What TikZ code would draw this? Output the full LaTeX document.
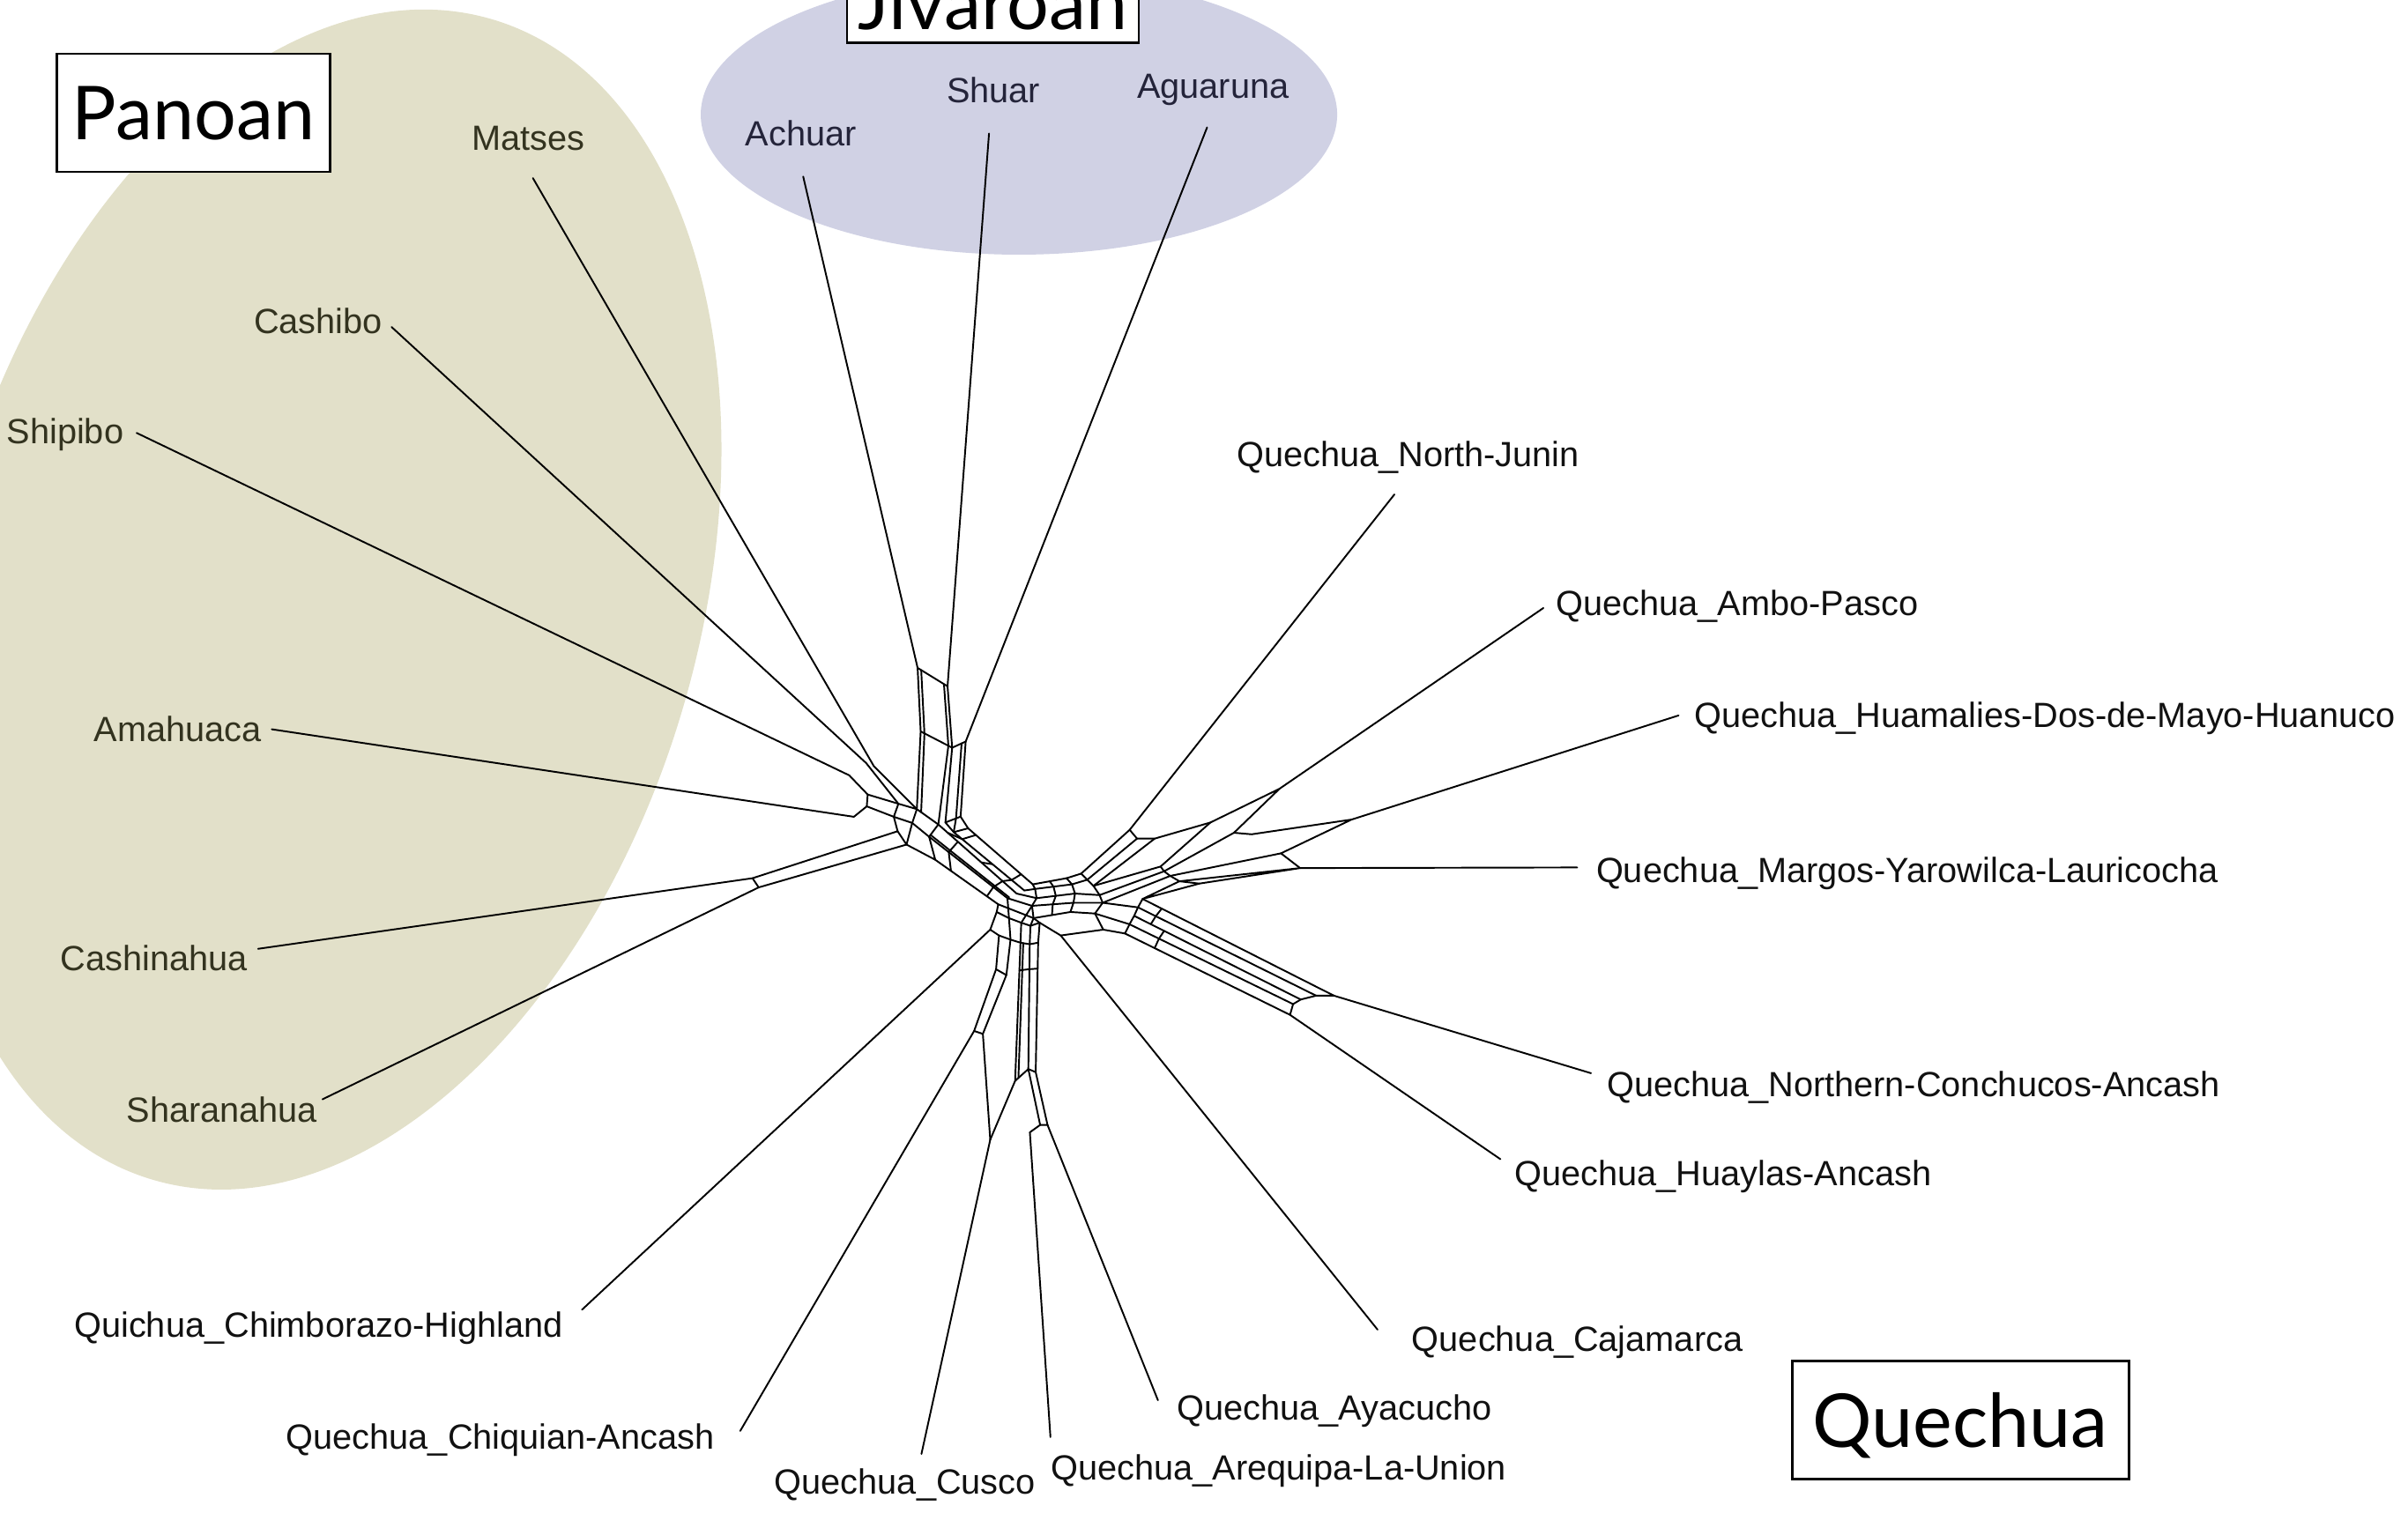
\documentclass[tikz,border=0pt]{standalone}
\usepackage{fontspec}
\setmainfont{Liberation Sans}
\newfontfamily\titlefont{Lato}
\usetikzlibrary{calc}
\definecolor{panfill}{HTML}{E2E0C9}
\definecolor{jivfill}{HTML}{D0D1E4}
\definecolor{pantext}{HTML}{33331F}
\definecolor{jivtext}{HTML}{24243A}
\definecolor{quetext}{HTML}{111111}
\begin{document}
\begin{tikzpicture}[x=0.17423mm,y=-0.17423mm,
  net/.style={line width=0.55pt,line join=round,line cap=round},
  lab/.style={font=\fontsize{11.3}{13}\selectfont,anchor=base west,inner sep=0pt},
  plab/.style={lab,text=pantext},
  jlab/.style={lab,text=jivtext},
  qlab/.style={lab,text=quetext},
  titletext/.style={font=\titlefont\fontsize{24}{28}\selectfont},
  titlebox/.style={draw,line width=0.8pt,fill=white,titletext,minimum height=13.4mm,inner sep=0pt,text depth=0pt}]
\useasboundingbox (0,0) rectangle (1568,985.45);
\clip (0,0) rectangle (1568,985.45);
% group backgrounds
\fill[panfill, rotate around={73.8:(210,390.5)}] (210,390.5) ellipse [x radius=68.6mm, y radius=42.7mm];
\fill[jivfill] (663.5,74.6) ellipse [x radius=36.1mm, y radius=15.9mm];

% ---------- outer leaf ends
\coordinate (mo) at (347,116);
\coordinate (ko) at (255,213);
\coordinate (sio) at (89,282);
\coordinate (amo) at (177,475);
\coordinate (cno) at (168,618);
\coordinate (sho) at (210,716);
\coordinate (acho) at (523,115);
\coordinate (shuo) at (644,87);
\coordinate (aguo) at (786,83);
\coordinate (njo) at (908,322);
\coordinate (apo) at (1005,396);
\coordinate (huo) at (1093,466);
\coordinate (mgo) at (1027,565);
\coordinate (nco) at (1036,699);
\coordinate (hyo) at (977,755);
\coordinate (cjo) at (897,866);
\coordinate (ayo) at (754,912);
\coordinate (aro) at (684,936);
\coordinate (cuo) at (600,947);
\coordinate (cqo) at (482,932);
\coordinate (cho) at (379,853);

% ---------- Panoan part
\coordinate (M1) at (569,499);
\coordinate (K1) at (564,497);
\coordinate (H1) at (553,505);
\coordinate (Am) at (556,532);
\coordinate (C1) at (490,572);
\coordinate (C2) at (494,578);
\coordinate (U0) at (565,517.5);
\coordinate (U1) at (585,523.5);
\coordinate (U2) at (597,527);
\coordinate (U3) at (611,537);
\coordinate (L0) at (564.4,525.2);
\coordinate (L1) at (582,532);
\coordinate (L2) at (594,536);
\coordinate (L3) at (605,545);
\coordinate (D1) at (584.5,541.4);
\coordinate (D2) at (590.3,550.1);
\coordinate (T5s) at (609,560);

\draw[net] (mo) -- (M1) -- (U2);
\draw[net] (ko) -- (K1) -- (U1);
\draw[net] (sio) -- (H1) -- (U0);
\draw[net] (amo) -- (Am) -- (L0);
\draw[net] (U0) -- (U1) -- (U2) -- (U3);
\draw[net] (L0) -- (L1) -- (L2) -- (L3);
\draw[net] (U0) -- (L0) (U1) -- (L1) (U2) -- (L2) (U3) -- (L3);
\draw[net] (cno) -- (C1) -- (D1) -- (L1);
\draw[net] (sho) -- (C2) -- (D2) -- (L2);
\draw[net] (C1) -- (C2) (D1) -- (D2);
\draw[net] (D2) -- (T5s) -- (L3);

% ---------- Jivaroan part
\coordinate (a0) at (597.5,435);
\coordinate (s0) at (617,447);
\coordinate (a1) at (599.5,476.4);
\coordinate (s1) at (620,487);
\coordinate (g0) at (628.8,483);
\coordinate (jm) at (615.6,535.7);
\coordinate (jr) at (625.5,531.9);
\coordinate (T1s) at (630.4,539.5);
\coordinate (T2s) at (621,542);
\coordinate (a0b) at ($(a0)!0.12!(s0)$);
\coordinate (a1b) at ($(a1)!0.12!(s1)$);
\coordinate (jlb) at ($(U2)!0.2!(U3)$);
\coordinate (s0b) at ($(a0)!0.88!(s0)$);
\coordinate (s1b) at ($(a1)!0.88!(s1)$);
\coordinate (g0b) at ($(g0)!0.3!(s1)$);
\coordinate (jrb) at ($(jr)!0.3!(jm)$);

\draw[net] (acho) -- (a0) -- (a1) -- (U2);
\draw[net] (shuo) -- (s0) -- (s1) -- (jm) -- (T2s);
\draw[net] (aguo) -- (g0) -- (jr) -- (T1s);
\draw[net] (a0) -- (s0) (a1) -- (s1) -- (g0) (jm) -- (jr) (T1s) -- (T2s);
\draw[net] (a0b) -- (a1b) -- (jlb);
\draw[net] (s0b) -- (s1b) -- (U3);
\draw[net] (g0b) -- (jrb) -- (T2s);

% ---------- trunk
\coordinate (T1e) at (672.5,576);
\coordinate (T2e) at (667,580);
\coordinate (T3e) at (662,582);
\coordinate (T4e) at (656,585);
\coordinate (T5e) at (650,589);
\coordinate (T4bs) at ($(L3)!0.15!(U3)$);
\coordinate (T4be) at ($(T4e)!0.18!(T3e)$);
\draw[net] (T1s) -- (T1e) (T2s) -- (T2e) (U3) -- (T3e) (L3) -- (T4e) (T5s) -- (T5e);
\draw[net] (T4bs) -- (T4be);
\draw[net] ($(T1s)!0.12!(T1e)$) -- ($(T2s)!0.12!(T2e)$) -- ($(U3)!0.12!(T3e)$);
\draw[net] ($(U3)!0.25!(T3e)$) -- ($(L3)!0.25!(T4e)$) -- ($(T5s)!0.25!(T5e)$);
\draw[net] ($(T2s)!0.55!(T2e)$) -- ($(U3)!0.55!(T3e)$);
\draw[net] ($(T1s)!0.82!(T1e)$) -- ($(T2s)!0.82!(T2e)$) -- ($(U3)!0.82!(T3e)$) -- ($(L3)!0.82!(T4e)$) -- ($(T5s)!0.82!(T5e)$);

% ---------- hub
\coordinate (HA2) at (674,579);
\coordinate (HA3) at (675,585);
\coordinate (HA4) at (672,590);
\coordinate (HA5) at (673,598);
\coordinate (HB1) at (694.5,572);
\coordinate (HB2) at (698,576);
\coordinate (HB3) at (700,582);
\coordinate (HB4) at (699,588);
\coordinate (HB5) at (697,594);
\coordinate (HC3) at (716,583);
\coordinate (HC4) at (718,588);
\coordinate (HC5) at (713,595);
\draw[net] (T1e) -- (HB1) (T2e) -- (HA2) -- (HB2) (T3e) -- (HA3) -- (HB3) (T4e) -- (HA4) -- (HB4) (T5e) -- (HA5) -- (HB5);
\draw[net] (T1e) -- (HA2) -- (HA3) -- (HA4) -- (HA5);
\draw[net] (HB1) -- (HB2) -- (HB3) -- (HB4) -- (HB5);
\draw[net] ($(T1e)!0.5!(HB1)$) -- ($(HA2)!0.5!(HB2)$) -- ($(HA3)!0.5!(HB3)$) -- ($(HA4)!0.5!(HB4)$) -- ($(HA5)!0.5!(HB5)$);
\draw[net] (HB3) -- (HC3) (HB4) -- (HC4) (HB5) -- (HC5);
\draw[net] (HC3) -- (HC4) -- (HC5);

% ---------- lower bundle
\coordinate (B1t) at (649,594);
\coordinate (B2t) at (657,598);
\coordinate (B3t) at (665,601);
\coordinate (B4t) at (671,603);
\coordinate (B5t) at (677,601);
\coordinate (ch0) at (644.8,605.5);
\coordinate (P1x) at (650.5,609.3);
\coordinate (P2x) at (658,612);
\coordinate (P3x) at (664.5,614);
\coordinate (P4x) at (670.5,615);
\coordinate (P5x) at (676,614);
\coordinate (cq1) at (648.6,631.3);
\coordinate (cq2) at (655.3,635.1);
\coordinate (cq0) at (634.3,671.5);
\coordinate (cq3) at (640,673.4);
\coordinate (cu0) at (644.8,742.3);
\coordinate (k1) at (661,704);
\coordinate (k2) at (669.6,696.3);
\coordinate (k3) at (674.4,698.3);
\coordinate (ar1) at (677.3,732.7);
\coordinate (ar0) at (670.6,737.5);
\coordinate (ay0) at (682.1,732.7);
\coordinate (P3b) at ($(P3x)!0.3!(P4x)$);
\coordinate (k1b) at ($(k1)!0.25!(k2)$);
\draw[net] (T5e) -- (B1t) (T4e) -- (B2t) (HA4) -- (B3t) (HA5) -- (B4t) (HA5) -- (B5t);
\draw[net] (B1t) -- (B2t) -- (B3t) -- (B4t) -- (B5t);
\draw[net] (B1t) -- (ch0) -- (P1x) -- (cq1) -- (cq0);
\draw[net] (B2t) -- (P2x) -- (cq2) -- (cq3) -- (cu0);
\draw[net] (B3t) -- (P3x) -- (k1) -- (cu0);
\draw[net] (P3b) -- (k1b);
\draw[net] (B4t) -- (P4x) -- (k2) -- (ar1) -- (ar0);
\draw[net] (B5t) -- (P5x) -- (k3) -- (ay0);
\draw[net] (P1x) -- (P2x) -- (P3x) -- (P4x) -- (P5x);
\draw[net] (cq1) -- (cq2) (cq0) -- (cq3) (k1) -- (k2) -- (k3) (ar1) -- (ay0);
\draw[net] ($(P3x)!0.2!(k1)$) -- ($(P4x)!0.2!(k2)$) -- ($(P5x)!0.2!(k3)$);
\draw[net] (cho) -- (ch0) (cqo) -- (cq0) (cuo) -- (cu0) (aro) -- (ar0) (ayo) -- (ay0);

% ---------- Cajamarca
\coordinate (cj0) at (690.7,609.3);
\coordinate (cj1) at (718.4,605.5);
\draw[net] (B5t) -- (cj0) -- (cj1) -- (HC5);
\draw[net] (cjo) -- (cj0);

% ---------- North-Junin / Ambo / Huamalies / Margos
\coordinate (NJ1s) at (704,569);
\coordinate (NJ2s) at (708,573);
\coordinate (NJ3s) at (712,577);
\coordinate (n0) at (735.6,540.5);
\coordinate (n1) at (740.4,546.2);
\coordinate (n2) at (751.9,546.2);
\coordinate (am0) at (833.2,513.7);
\coordinate (am1) at (788.2,535.7);
\coordinate (am2) at (803.5,542.4);
\coordinate (hu1) at (815,543.4);
\coordinate (hu0) at (880.1,533.8);
\coordinate (mg1) at (834.1,555.8);
\coordinate (mg0) at (846.6,565.4);
\coordinate (F1) at (755.7,564.4);
\coordinate (F2) at (758,567.5);
\coordinate (F3) at (762,570.5);
\coordinate (F4) at (768,574);
\coordinate (F5) at (781,575.5);
\draw[net] (HB1) -- (NJ1s) -- (n0) (HB2) -- (NJ2s) -- (n1) (NJ3s) -- (n2);
\draw[net] (NJ1s) -- (NJ2s) -- (NJ3s) -- (HC3);
\draw[net] (n0) -- (n1) -- (n2) -- (am1) -- (am0) -- (am2) -- (hu1) -- (hu0) -- (mg1) -- (mg0);
\draw[net] (am1) -- (F1) -- (NJ3s);
\draw[net] (am2) -- (F2) -- (HC3);
\draw[net] (mg1) -- (F3) -- (HC4);
\draw[net] (F1) -- (F2) -- (F3) -- (F4) -- (F5);
\draw[net] (njo) -- (n0) (apo) -- (am0) (huo) -- (hu0) (mgo) -- (mg0);

% ---------- Northern-Conchucos / Huaylas bundle
\coordinate (Q1s) at (744,585.5);
\coordinate (Q2s) at (741,591);
\coordinate (Q3s) at (738.5,596.5);
\coordinate (Q4s) at (735.5,602);
\coordinate (Q5s) at (732.5,608);
\coordinate (nc0) at (868.6,648.5);
\coordinate (e2) at (857,648.5);
\coordinate (e3) at (847,651);
\coordinate (e4) at (842,654);
\coordinate (hy0) at (840,661);
\draw[net] (mg0) -- (F4) -- (Q1s) (mg0) -- (F5) -- (Q1s);
\draw[net] (HC4) -- (Q2s) (HC5) -- (Q4s) (cj1) -- (Q5s);
\draw[net] (Q1s) -- (Q2s) -- (Q3s) -- (Q4s) -- (Q5s);
\draw[net] (Q1s) -- (nc0) (Q2s) -- (e2) (Q3s) -- (e3) (Q4s) -- (e4) (Q5s) -- (hy0);
\draw[net] ($(Q1s)!0.1!(nc0)$) -- ($(Q2s)!0.1!(e2)$) -- ($(Q3s)!0.1!(e3)$);
\draw[net] ($(Q3s)!0.18!(e3)$) -- ($(Q4s)!0.18!(e4)$) -- ($(Q5s)!0.18!(hy0)$);
\draw[net] (nc0) -- (e2) -- (e3) -- (e4) -- (hy0);
\draw[net] (nco) -- (nc0) (hyo) -- (hy0);

% ---------- labels
\node[plab] (lmatses) at (307,98) {Matses};
\node[plab] (lcashibo) at (165,217) {Cashibo};
\node[plab] (lshipibo) at (4,289) {Shipibo};
\node[plab] (lamahuaca) at (61,483) {Amahuaca};
\node[plab] (lcashinahua) at (39,632) {Cashinahua};
\node[plab] (lsharanahua) at (82,731) {Sharanahua};
\node[jlab] (lachuar) at (485,95) {Achuar};
\node[jlab] (lshuar) at (616,67) {Shuar};
\node[jlab] (laguaruna) at (740,64) {Aguaruna};
\node[qlab] (lnj) at (805,304) {Quechua\_North-Junin};
\node[qlab] (lambo) at (1013,401) {Quechua\_Ambo-Pasco};
\node[qlab] (lhua) at (1103,474) {Quechua\_Huamalies-Dos-de-Mayo-Huanuco};
\node[qlab] (lmar) at (1039,575) {Quechua\_Margos-Yarowilca-Lauricocha};
\node[qlab] (lnc) at (1046,714) {Quechua\_Northern-Conchucos-Ancash};
\node[qlab] (lhuay) at (986,772) {Quechua\_Huaylas-Ancash};
\node[qlab] (lcaj) at (919,880) {Quechua\_Cajamarca};
\node[qlab] (laya) at (766,925) {Quechua\_Ayacucho};
\node[qlab] (lare) at (684,964) {Quechua\_Arequipa-La-Union};
\node[qlab] (lcus) at (504,973) {Quechua\_Cusco};
\node[qlab] (lchiq) at (186,944) {Quechua\_Chiquian-Ancash};
\node[qlab] (lchim) at (48,871) {Quichua\_Chimborazo-Highland};

% ---------- group titles
\node[titlebox, minimum width=31mm] (panoan) at (126,73.5) {Panoan};
\node[titlebox, minimum width=33.1mm] (jivaroan) at (646.5,-10.5) {};
\node[titletext, anchor=base, inner sep=0pt] (jivtitle) at (646.5,19) {Jivaroan};
\node[titlebox, minimum width=38.2mm] (quechua) at (1276.5,925) {Quechua};
\end{tikzpicture}
\end{document}
